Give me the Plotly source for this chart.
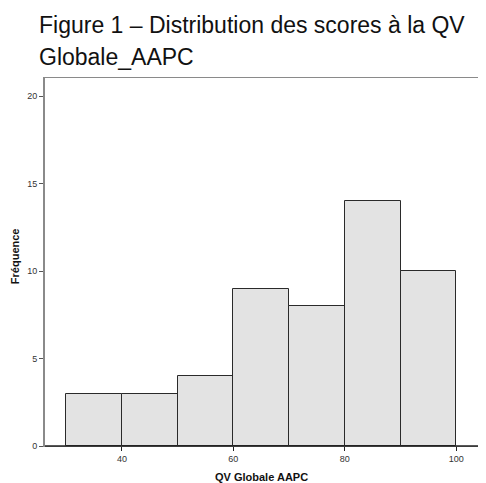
import plotly.graph_objects as go

bin_left = [30, 40, 50, 60, 70, 80, 90]
bin_width = 10
counts = [3, 3, 4, 9, 8, 14, 10]
x_ticks = [40, 60, 80, 100]
y_ticks = [0, 5, 10, 15, 20]

centers = [b + bin_width / 2 for b in bin_left]

fig = go.Figure()
fig.add_trace(go.Bar(
    x=centers, y=counts, width=[bin_width] * len(counts),
    marker=dict(color="#e3e3e3", line=dict(color="#2a2a2a", width=1)),
    hoverinfo="x+y",
))

FONT = "Liberation Sans, Arial, sans-serif"
W, H = 478, 475
L, R, T, B = 37, 6, 70, 37
PH = H - T - B
PW = W - L - R

fig.update_layout(
    width=W, height=H,
    margin=dict(l=L, r=R, t=T, b=B),
    paper_bgcolor="white", plot_bgcolor="white",
    showlegend=False,
    bargap=0,
    font=dict(family=FONT, color="#222"),
)
fig.update_xaxes(
    range=[26.2, 103.9], tickvals=x_ticks, ticks="outside", ticklen=4,
    tickcolor="#222", tickfont=dict(size=9, color="#333"),
    showgrid=False, zeroline=False,
    showline=True, linecolor="#8a8a8a", linewidth=1, mirror=True,
)
fig.update_yaxes(
    range=[0, 21.03], tickvals=y_ticks, ticks="outside", ticklen=4,
    tickcolor="#555", tickfont=dict(size=9, color="#333"),
    showgrid=False, zeroline=False,
    showline=True, linecolor="#8a8a8a", linewidth=2, mirror=True,
)
# bottom axis line darker
fig.add_shape(type="line", xref="paper", yref="paper", x0=0, x1=1, y0=0, y1=0,
              line=dict(color="#222", width=1.5))

# axis titles
fig.add_annotation(text="<b>QV Globale AAPC</b>", xref="paper", yref="paper",
                   x=0.5, y=-(469 - (H - B)) / PH, xanchor="center", yanchor="middle",
                   showarrow=False, font=dict(family=FONT, size=11, color="#111"))
fig.add_annotation(text="<b>Fréquence</b>", xref="paper", yref="paper",
                   x=(7 - L) / PW, y=((H - B) - 248) / PH, xanchor="center", yanchor="middle",
                   textangle=-90, showarrow=False, font=dict(family=FONT, size=11, color="#111"))

# title (two lines)
fig.add_annotation(text="Figure 1 – Distribution des scores à la QV", xref="paper", yref="paper",
                   x=(29 - L) / PW, y=1 + (T - 17) / PH, xanchor="left", yanchor="middle",
                   showarrow=False, font=dict(family=FONT, size=23, color="#111"))
fig.add_annotation(text="Globale_AAPC", xref="paper", yref="paper",
                   x=(29 - L) / PW, y=1 + (T - 49) / PH, xanchor="left", yanchor="middle",
                   showarrow=False, font=dict(family=FONT, size=23, color="#111"))

fig.write_html("out.html")
